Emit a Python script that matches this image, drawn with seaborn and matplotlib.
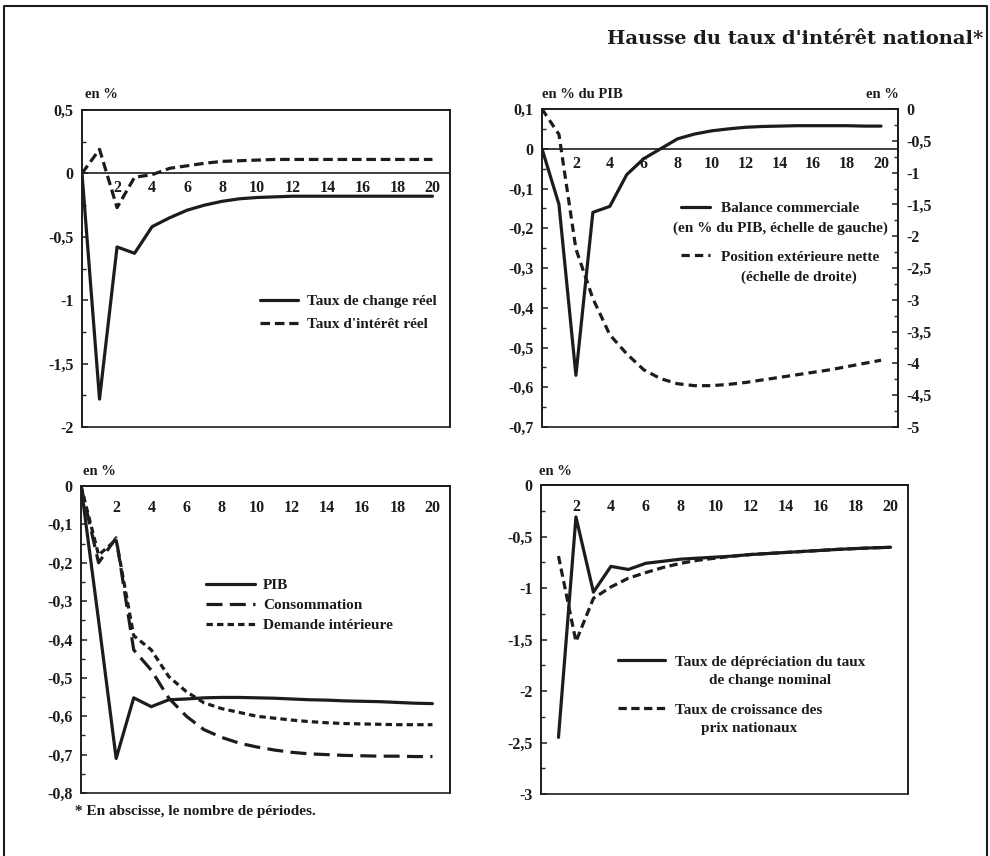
import numpy as np
import pandas as pd
import seaborn as sns
import matplotlib.pyplot as plt
from matplotlib.ticker import MultipleLocator, FixedLocator, FuncFormatter
from matplotlib.lines import Line2D

# --- data ---
periods = list(range(0, 21))
change_reel = [0, -1.78, -0.58, -0.63, -0.42, -0.35, -0.29, -0.25, -0.22, -0.20, -0.19,
               -0.185, -0.18, -0.18, -0.18, -0.18, -0.18, -0.18, -0.18, -0.18, -0.18]
interet_reel = [0, 0.19, -0.27, -0.03, -0.01, 0.04, 0.06, 0.08, 0.095, 0.10, 0.105,
                0.11, 0.11, 0.11, 0.11, 0.11, 0.11, 0.11, 0.11, 0.11, 0.11]

balance_comm = [0, -0.14, -0.57, -0.16, -0.145, -0.065, -0.025, 0.0, 0.025, 0.037, 0.045,
                0.05, 0.054, 0.056, 0.057, 0.058, 0.058, 0.058, 0.058, 0.057, 0.057]
position_ext = [0, -0.4, -2.2, -2.98, -3.55, -3.85, -4.1, -4.24, -4.32, -4.35, -4.35,
                -4.33, -4.3, -4.26, -4.22, -4.18, -4.14, -4.1, -4.05, -4.0, -3.95]

pib = [0, -0.35, -0.71, -0.552, -0.575, -0.557, -0.555, -0.552, -0.551, -0.551, -0.552,
       -0.553, -0.555, -0.557, -0.558, -0.56, -0.561, -0.562, -0.564, -0.566, -0.567]
consommation = [0, -0.2, -0.135, -0.427, -0.48, -0.553, -0.6, -0.635, -0.655, -0.67, -0.68,
                -0.688, -0.694, -0.698, -0.7, -0.702, -0.703, -0.704, -0.704, -0.705, -0.705]
demande_int = [0, -0.18, -0.14, -0.39, -0.427, -0.497, -0.536, -0.565, -0.58, -0.59, -0.6,
               -0.605, -0.61, -0.614, -0.617, -0.619, -0.62, -0.621, -0.622, -0.622, -0.622]

periods_b = list(range(1, 21))
depreciation = [-2.45, -0.31, -1.04, -0.79, -0.82, -0.76, -0.74, -0.72, -0.71, -0.70,
                -0.69, -0.675, -0.665, -0.655, -0.645, -0.635, -0.625, -0.617, -0.61, -0.605]
croissance_prix = [-0.69, -1.52, -1.1, -0.99, -0.905, -0.85, -0.8, -0.76, -0.73, -0.71,
                   -0.69, -0.675, -0.665, -0.655, -0.645, -0.635, -0.625, -0.617, -0.61, -0.605]

df_a = pd.DataFrame({"t": periods, "change": change_reel, "interet": interet_reel,
                     "balance": balance_comm, "position": position_ext,
                     "pib": pib, "conso": consommation, "demande": demande_int})
df_b = pd.DataFrame({"t": periods_b, "deprec": depreciation, "prix": croissance_prix})

sns.set_style("white")
plt.rcParams['font.family'] = ['Liberation Serif', 'DejaVu Serif']
plt.rcParams['font.weight'] = 'bold'
plt.rcParams['font.size'] = 11

INK = '#1c1c1c'
W, H = 990, 856
LW = 2.3
TICK_FS = 11.5
LEG_FS = 11


def fx(x):
    return x / W


def fy(y):
    return 1 - y / H


def comma(v, pos=None):
    v = round(v, 2)
    if v == 0:
        return "0"
    return f"{v:g}".replace(".", ",")


fig = plt.figure(figsize=(9.9, 8.56), dpi=100)


def make_ax(left, top, right, bottom):
    return fig.add_axes([fx(left), fy(bottom), fx(right) - fx(left), fy(top) - fy(bottom)])


def style(ax, ylim, major, minor, zero_top):
    ax.set_xlim(0, 21)
    ax.set_ylim(*ylim)
    ax.set_xlabel("")
    ax.set_ylabel("")
    ax.spines['bottom'].set_position(('data', 0))
    for s in ax.spines.values():
        s.set_color(INK)
        s.set_linewidth(1.2)
    ax.patch.set_edgecolor(INK)
    ax.patch.set_linewidth(1.2)
    ax.xaxis.set_major_locator(FixedLocator(range(2, 21, 2)))
    ax.xaxis.set_minor_locator(MultipleLocator(1))
    ax.yaxis.set_major_locator(MultipleLocator(major))
    ax.yaxis.set_minor_locator(MultipleLocator(minor))
    ax.yaxis.set_major_formatter(FuncFormatter(comma))
    if zero_top:
        ax.tick_params(axis='x', which='major', direction='out', length=5, width=1.2, pad=5)
        ax.tick_params(axis='x', which='minor', direction='out', length=3, width=1.0)
    else:
        ax.tick_params(axis='x', which='major', direction='in', length=5, width=1.2, pad=5)
        ax.tick_params(axis='x', which='minor', direction='in', length=3, width=1.0)
    ax.tick_params(axis='y', which='major', direction='in', length=4, width=1.1, pad=6, left=True)
    ax.tick_params(axis='y', which='minor', direction='in', length=3, width=1.0, left=True)
    ax.tick_params(axis='both', colors=INK, labelsize=TICK_FS)


def legend(ax, handles, labels, x, y, hl, htp, ls):
    leg = ax.legend(handles, labels, loc='upper left', bbox_to_anchor=(x, y), frameon=False,
                    borderpad=0, borderaxespad=0, handlelength=hl, handletextpad=htp,
                    labelspacing=ls, prop={'weight': 'bold', 'size': LEG_FS})
    for t in leg.get_texts():
        t.set_color(INK)
    return leg


def second_lines(ax, leg, extras, gap, shifts):
    for txt, extra, dx in zip(leg.get_texts(), extras, shifts):
        ax.annotate(extra, xy=(0.5, 0), xycoords=txt, xytext=(dx, -gap),
                    textcoords='offset points', ha='center', va='top',
                    fontsize=LEG_FS, fontweight='bold', color=INK, zorder=10)


ax1 = make_ax(82, 110, 450, 427)
ax2 = make_ax(542, 109, 898, 427)
ax3 = make_ax(81, 486, 450, 793)
ax4 = make_ax(541, 485, 908, 794)

# panel 1 : taux de change / taux d'intérêt réels
sns.lineplot(data=df_a, x="t", y="change", ax=ax1, color=INK, lw=LW,
             label="Taux de change réel", legend=False)
sns.lineplot(data=df_a, x="t", y="interet", ax=ax1, color=INK, lw=LW, ls=(0, (3, 1.5)),
             label="Taux d'intérêt réel", legend=False)
style(ax1, (-2, 0.5), 0.5, 0.25, False)
h, l = ax1.get_legend_handles_labels()
legend(ax1, h, l, 0.484, 0.418, 2.5, 0.6, 0.6)

# panel 2 : balance commerciale / position extérieure nette
sns.lineplot(data=df_a, x="t", y="balance", ax=ax2, color=INK, lw=LW,
             label="Balance commerciale", legend=False)
ax2r = ax2.twinx()
sns.lineplot(data=df_a, x="t", y="position", ax=ax2r, color=INK, lw=LW, ls=(0, (2.6, 1.6)),
             label="Position extérieure nette", legend=False)
style(ax2, (-0.7, 0.1), 0.1, 0.05, False)
ax2r.set_ylim(-5, 0)
ax2r.set_ylabel("")
ax2r.yaxis.set_major_locator(MultipleLocator(0.5))
ax2r.yaxis.set_minor_locator(MultipleLocator(0.25))
ax2r.yaxis.set_major_formatter(FuncFormatter(comma))
ax2r.tick_params(axis='y', which='major', direction='in', length=4, width=1.1, pad=6,
                 right=True, colors=INK, labelsize=TICK_FS)
ax2r.tick_params(axis='y', which='minor', direction='in', length=3, width=1.0, right=True)
for name in ['left', 'top', 'bottom']:
    ax2r.spines[name].set_visible(False)
ax2r.spines['right'].set_color(INK)
ax2r.spines['right'].set_linewidth(1.2)
h = ax2.get_lines()[:1] + ax2r.get_lines()[:1]
leg2 = legend(ax2r, h, ["Balance commerciale", "Position extérieure nette"],
              0.39, 0.71, 1.9, 0.75, 2.3)
second_lines(ax2r, leg2, ["(en % du PIB, échelle de gauche)", "(échelle de droite)"],
             5, [-7.5, -1])

# panel 3 : PIB, consommation, demande intérieure
sns.lineplot(data=df_a, x="t", y="pib", ax=ax3, color=INK, lw=LW,
             label="PIB", legend=False)
sns.lineplot(data=df_a, x="t", y="conso", ax=ax3, color=INK, lw=LW, ls=(0, (5, 2.3)),
             label="Consommation", legend=False)
sns.lineplot(data=df_a, x="t", y="demande", ax=ax3, color=INK, lw=LW, ls=(0, (2, 1.3)),
             label="Demande intérieure", legend=False)
style(ax3, (-0.8, 0), 0.1, 0.05, True)
h, l = ax3.get_legend_handles_labels()
legend(ax3, h, l, 0.34, 0.698, 3.2, 0.5, 0.4)

# panel 4 : taux de dépréciation / croissance des prix
sns.lineplot(data=df_b, x="t", y="deprec", ax=ax4, color=INK, lw=LW,
             label="Taux de dépréciation du taux", legend=False)
sns.lineplot(data=df_b, x="t", y="prix", ax=ax4, color=INK, lw=LW, ls=(0, (2.6, 1.4)),
             label="Taux de croissance des", legend=False)
style(ax4, (-3, 0), 0.5, 0.25, True)
h, l = ax4.get_legend_handles_labels()
leg4 = legend(ax4, h, l, 0.21, 0.45, 3.1, 0.65, 2.25)
second_lines(ax4, leg4, ["de change nominal", "prix nationaux"], 3.5, [0, 0])

# unit labels above the panels
fig.text(fx(85), fy(94), "en %", ha='left', va='center', fontsize=10.5, color=INK)
fig.text(fx(542), fy(95), "en % du PIB", ha='left', va='center', fontsize=10.5, color=INK)
fig.text(fx(899), fy(95), "en %", ha='right', va='center', fontsize=10.5, color=INK)
fig.text(fx(83), fy(472), "en %", ha='left', va='center', fontsize=10.5, color=INK)
fig.text(fx(539), fy(472), "en %", ha='left', va='center', fontsize=10.5, color=INK)

fig.text(fx(983), fy(39), "Hausse du taux d'intérêt national*", ha='right', va='center',
         family='DejaVu Serif', fontweight='bold', fontsize=14, color=INK)
fig.text(fx(75), fy(812), "* En abscisse, le nombre de périodes.", ha='left', va='center',
         fontsize=11, color=INK)

fig.add_artist(Line2D([fx(4), fx(4), fx(987), fx(987)], [0, fy(6), fy(6), 0],
                      transform=fig.transFigure, color=INK, lw=1.5))

fig.savefig("out.png", dpi=100)
